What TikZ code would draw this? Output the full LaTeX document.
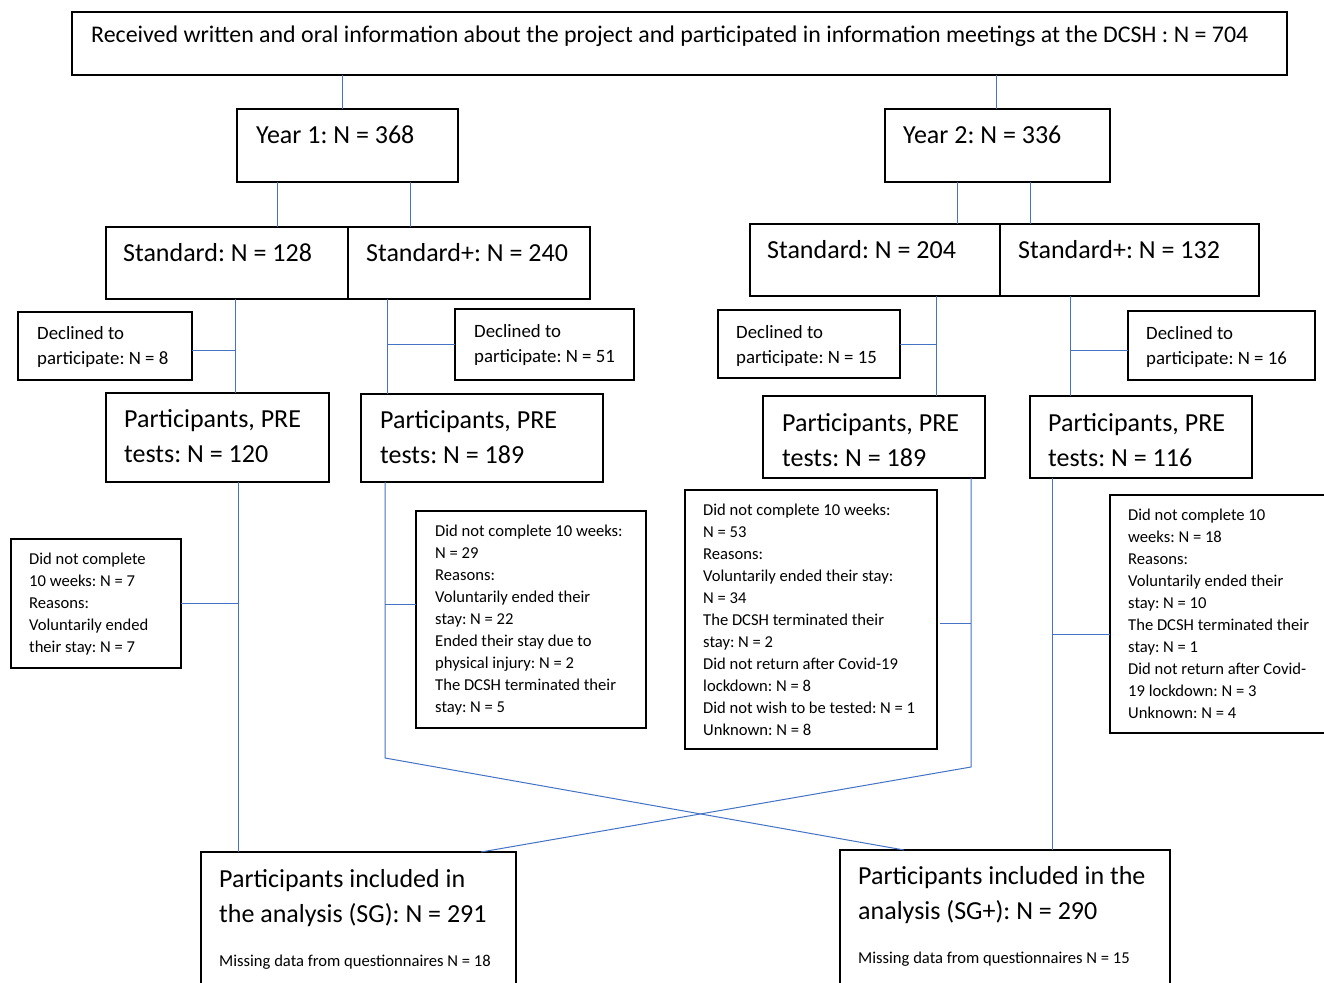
\documentclass[tikz,border=0pt]{standalone}
\usepackage{fontspec}
\setmainfont{Carlito}
\frenchspacing
\definecolor{linkblue}{HTML}{4472C4}
\newcommand{\ptxt}[1]{\parbox[t]{12cm}{\raggedright #1}}
\tikzset{
 box/.style={draw=black, line width=1.6pt, rectangle, anchor=north west, inner sep=0pt, outer sep=0pt},
 conn/.style={draw=linkblue, line width=1pt},
 tit/.style={anchor=base west, inner sep=0pt, font=\fontsize{23.9}{28}\selectfont},
 big/.style={anchor=base west, inner sep=0pt, font=\fontsize{26}{35}\selectfont},
 mid/.style={anchor=base west, inner sep=0pt, font=\fontsize{18.8}{25}\selectfont},
 sml/.style={anchor=base west, inner sep=0pt, font=\fontsize{16.6}{22}\selectfont},
}
\begin{document}
\begin{tikzpicture}[x=1pt,y=-1pt]
\useasboundingbox (0,0) rectangle (1324,982);
\fill[white] (0,0) rectangle (1324,982);
\clip (0,0) rectangle (1324,982);
% boxes
\node[box, minimum width=1215, minimum height=63] (top) at (72,12) {};
\node[box, minimum width=221, minimum height=73] (y1) at (237,109) {};
\node[box, minimum width=225, minimum height=73] (y2) at (885,109) {};
\node[box, minimum width=242, minimum height=72] (s1) at (106,227) {};
\node[box, minimum width=242, minimum height=72] (sp1) at (348,227) {};
\node[box, minimum width=250, minimum height=72] (s2) at (750,224) {};
\node[box, minimum width=259, minimum height=72] (sp2) at (1000,224) {};
\node[box, minimum width=174, minimum height=68] (d1) at (18,312) {};
\node[box, minimum width=179, minimum height=71] (d2) at (455,309) {};
\node[box, minimum width=182, minimum height=68] (d3) at (718,310) {};
\node[box, minimum width=187, minimum height=69] (d4) at (1128,311) {};
\node[box, minimum width=223, minimum height=89] (p1) at (106,393) {};
\node[box, minimum width=242, minimum height=88] (p2) at (361,394) {};
\node[box, minimum width=222, minimum height=82] (p3) at (763,396) {};
\node[box, minimum width=222, minimum height=82] (p4) at (1030,396) {};
\node[box, minimum width=170, minimum height=129] (c1) at (11,539) {};
\node[box, minimum width=230, minimum height=217] (c2) at (416,511) {};
\node[box, minimum width=252, minimum height=259] (c3) at (685,490) {};
\node[box, minimum width=224, minimum height=238] (c4) at (1110,495) {};
\node[box, minimum width=315, minimum height=140] (sg) at (201,852) {};
\node[box, minimum width=330, minimum height=140] (sgp) at (840,850) {};
% texts
\node[tit] (t0) at (91,43) {Received written and oral information about the project and participated in information meetings at the DCSH : N = 704};
\node[big] (ty1) at (256,143) {Year 1: N = 368};
\node[big] (ty2) at (903,143) {Year 2: N = 336};
\node[big] (ts1) at (123,261) {Standard: N = 128};
\node[big] (tsp1) at (366,261) {Standard+: N = 240};
\node[big] (ts2) at (767,258) {Standard: N = 204};
\node[big] (tsp2) at (1018,258) {Standard+: N = 132};
\node[mid] (td1) at (37,339) {\ptxt{Declined to\\participate: N = 8}};
\node[mid] (td2) at (474,337) {\ptxt{Declined to\\participate: N = 51}};
\node[mid] (td3) at (736,338) {\ptxt{Declined to\\participate: N = 15}};
\node[mid] (td4) at (1146,339) {\ptxt{Declined to\\participate: N = 16}};
\node[big] (tp1) at (124,427) {\ptxt{Participants, PRE\\tests: N = 120}};
\node[big] (tp2) at (380,428) {\ptxt{Participants, PRE\\tests: N = 189}};
\node[big] (tp3) at (782,431) {\ptxt{Participants, PRE\\tests: N = 189}};
\node[big] (tp4) at (1048,431) {\ptxt{Participants, PRE\\tests: N = 116}};
\node[sml] (tc1) at (29,564) {\ptxt{Did not complete\\10 weeks: N = 7\\Reasons:\\Voluntarily ended\\their stay: N = 7}};
\node[sml] (tc2) at (435,536) {\ptxt{Did not complete 10 weeks:\\N = 29\\Reasons:\\Voluntarily ended their\\stay: N = 22\\Ended their stay due to\\physical injury: N = 2\\The DCSH terminated their\\stay: N = 5}};
\node[sml] (tc3) at (703,515) {\ptxt{Did not complete 10 weeks:\\N = 53\\Reasons:\\Voluntarily ended their stay:\\N = 34\\The DCSH terminated their\\stay: N = 2\\Did not return after Covid-19\\lockdown: N = 8\\Did not wish to be tested: N = 1\\Unknown: N = 8}};
\node[sml] (tc4) at (1128,520) {\ptxt{Did not complete 10\\weeks: N = 18\\Reasons:\\Voluntarily ended their\\stay: N = 10\\The DCSH terminated their\\stay: N = 1\\Did not return after Covid-\\19 lockdown: N = 3\\Unknown: N = 4}};
\node[big] (tsg) at (219,887) {\ptxt{Participants included in\\the analysis (SG): N = 291}};
\node[sml] (tsgm) at (219,966) {Missing data from questionnaires N = 18};
\node[big] (tsgp) at (858,884) {\ptxt{Participants included in the\\analysis (SG+): N = 290}};
\node[sml] (tsgpm) at (858,963) {Missing data from questionnaires N = 15};
% connector x positions
\coordinate (xA) at (342,0);
\coordinate (xB) at (996,0);
\coordinate (xC) at (277,0);
\coordinate (xD) at (410,0);
\coordinate (xE) at (957,0);
\coordinate (xF) at (1030,0);
\coordinate (xG) at (235,0);
\coordinate (xH) at (387,0);
\coordinate (xI) at (936,0);
\coordinate (xJ) at (1070,0);
\coordinate (xK) at (238,0);
\coordinate (xL) at (385,0);
\coordinate (xM) at (971,0);
\coordinate (xN) at (1052,0);
\coordinate (xO) at (904,0);
\coordinate (xP) at (481,0);
\coordinate (bL) at (385,758);
\coordinate (bM) at (971,767);
% connectors
\draw[conn] (top.south -| xA) -- (y1.north -| xA);
\draw[conn] (top.south -| xB) -- (y2.north -| xB);
\draw[conn] (y1.south -| xC) -- (s1.north -| xC);
\draw[conn] (y1.south -| xD) -- (sp1.north -| xD);
\draw[conn] (y2.south -| xE) -- (s2.north -| xE);
\draw[conn] (y2.south -| xF) -- (sp2.north -| xF);
\draw[conn] (s1.south -| xG) -- (p1.north -| xG);
\draw[conn] (sp1.south -| xH) -- (p2.north -| xH);
\draw[conn] (s2.south -| xI) -- (p3.north -| xI);
\draw[conn] (sp2.south -| xJ) -- (p4.north -| xJ);
\draw[conn] ([yshift=-4pt]d1.east) -- ([yshift=-4pt]d1.east -| xG);
\draw[conn] (d2.west) -- (d2.west -| xH);
\draw[conn] (d3.east) -- (d3.east -| xI);
\draw[conn] ([yshift=-5pt]d4.west) -- ([yshift=-5pt]d4.west -| xJ);
\draw[conn] (c1.east) -- (c1.east -| xK);
\draw[conn] ([yshift=15pt]c2.west) -- ([yshift=15pt]c2.west -| xL);
\draw[conn] ([yshift=-4pt,xshift=3pt]c3.east) -- ([yshift=-4pt]c3.east -| xM);
\draw[conn] ([yshift=-20pt]c4.west) -- ([yshift=-20pt]c4.west -| xN);
\draw[conn] (p1.south -| xK) -- (sg.north -| xK);
\draw[conn] (p4.south -| xN) -- (sgp.north -| xN);
\draw[conn] (p2.south -| xL) -- (bL) -- (sgp.north -| xO);
\draw[conn] (p3.south -| xM) -- (bM) -- (sg.north -| xP);
\end{tikzpicture}
\end{document}
